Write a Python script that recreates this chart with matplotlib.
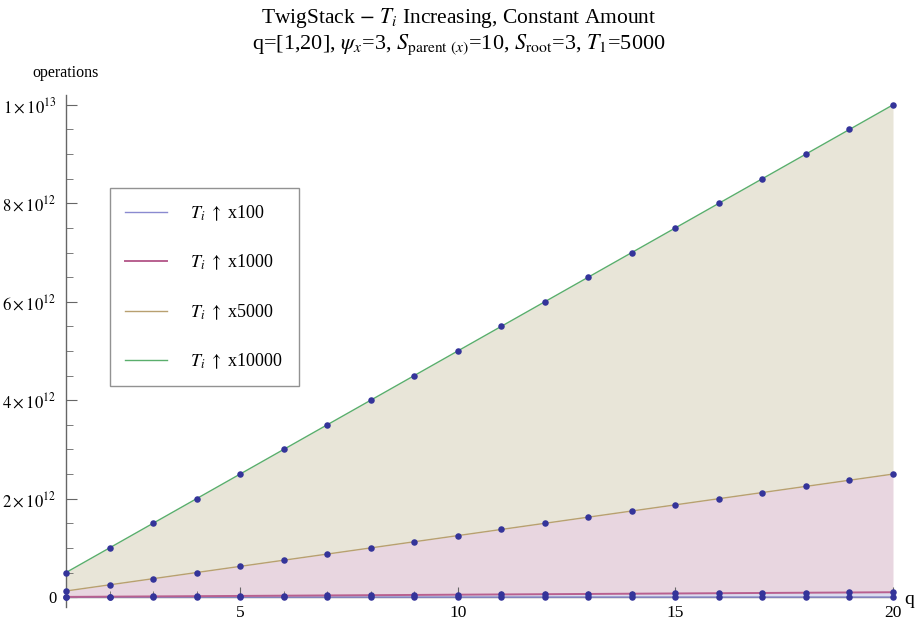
import matplotlib.pyplot as plt
from matplotlib.ticker import FixedLocator, MultipleLocator

plt.rcParams['font.family'] = ['Liberation Serif', 'DejaVu Serif']
plt.rcParams['mathtext.fontset'] = 'stix'

# data
q = [1, 2, 3, 4, 5, 6, 7, 8, 9, 10, 11, 12, 13, 14, 15, 16, 17, 18, 19, 20]
ops_x100 = [5e7, 1e8, 1.5e8, 2e8, 2.5e8, 3e8, 3.5e8, 4e8, 4.5e8, 5e8,
            5.5e8, 6e8, 6.5e8, 7e8, 7.5e8, 8e8, 8.5e8, 9e8, 9.5e8, 1e9]
ops_x1000 = [5e9, 1e10, 1.5e10, 2e10, 2.5e10, 3e10, 3.5e10, 4e10, 4.5e10, 5e10,
             5.5e10, 6e10, 6.5e10, 7e10, 7.5e10, 8e10, 8.5e10, 9e10, 9.5e10, 1e11]
ops_x5000 = [1.25e11, 2.5e11, 3.75e11, 5e11, 6.25e11, 7.5e11, 8.75e11, 1e12, 1.125e12, 1.25e12,
             1.375e12, 1.5e12, 1.625e12, 1.75e12, 1.875e12, 2e12, 2.125e12, 2.25e12, 2.375e12, 2.5e12]
ops_x10000 = [5e11, 1e12, 1.5e12, 2e12, 2.5e12, 3e12, 3.5e12, 4e12, 4.5e12, 5e12,
              5.5e12, 6e12, 6.5e12, 7e12, 7.5e12, 8e12, 8.5e12, 9e12, 9.5e12, 1e13]

labels = [r'$T_i$ $\uparrow$ x100', r'$T_i$ $\uparrow$ x1000',
          r'$T_i$ $\uparrow$ x5000', r'$T_i$ $\uparrow$ x10000']
y_ticks = [0, 2e12, 4e12, 6e12, 8e12, 1e13]
y_ticklabels = ['0', r'$2\times10^{12}$', r'$4\times10^{12}$', r'$6\times10^{12}$',
                r'$8\times10^{12}$', r'$1\times10^{13}$']

series = [ops_x100, ops_x1000, ops_x5000, ops_x10000]
line_colors = ['#8a8ad0', '#b8608f', '#b8a070', '#5aae6c']
line_widths = [1.0, 1.4, 1.0, 1.0]
fill_colors = ['#dcdcee', '#e8d6e0', '#e8d6e0', '#e8e5d8']

fig = plt.figure(figsize=(9.18, 6.24), dpi=100)
ax = fig.add_axes([66 / 918, 17 / 624, (893 - 66) / 918, (607 - 95) / 624])

# fills between consecutive curves
ax.fill_between(q, [0] * len(q), ops_x100, color=fill_colors[0], lw=0)
ax.fill_between(q, ops_x100, ops_x1000, color=fill_colors[0], lw=0)
ax.fill_between(q, ops_x1000, ops_x5000, color=fill_colors[2], lw=0)
ax.fill_between(q, ops_x5000, ops_x10000, color=fill_colors[3], lw=0)

for ys, c, lw, lab in zip(series, line_colors, line_widths, labels):
    ax.plot(q, ys, color=c, lw=lw, label=lab, zorder=3)
for ys in series:
    ax.scatter(q, ys, s=22, color='#34349a', zorder=4, clip_on=False, lw=0)

ax.set_xlim(1, 20)
ax.set_ylim(-2e11, 1.02e13)

ax.spines['top'].set_visible(False)
ax.spines['right'].set_visible(False)
ax.spines['left'].set_position(('data', 1))
ax.spines['bottom'].set_position(('data', 0))
for s in ('left', 'bottom'):
    ax.spines[s].set_color('#666666')
    ax.spines[s].set_linewidth(1.0)

ax.xaxis.set_major_locator(FixedLocator([5, 10, 15, 20]))
ax.xaxis.set_minor_locator(MultipleLocator(1))
ax.yaxis.set_major_locator(FixedLocator(y_ticks))
ax.set_yticklabels(y_ticklabels)
ax.yaxis.set_minor_locator(MultipleLocator(5e11))
ax.tick_params(axis='both', which='both', direction='in', colors='#666666',
               labelcolor='black', labelsize=12)
ax.tick_params(axis='x', which='major', length=7, pad=6, labelsize=12.5)
ax.tick_params(axis='x', which='minor', length=4)
ax.tick_params(axis='y', which='major', length=8, pad=7)
ax.tick_params(axis='y', which='minor', length=5)

fig.text(66 / 918, 1 - 73 / 624, 'operations', ha='center', va='center', fontsize=11.5)
fig.text(909 / 918, 1 - 600 / 624, 'q', ha='center', va='center', fontsize=14)

fig.text(0.5, 1 - 18 / 624, r'TwigStack $-$ $T_i$ Increasing, Constant Amount',
         ha='center', va='center', fontsize=15.5)
fig.text(0.5, 1 - 45 / 624,
         r'q=[1,20], $\psi_x$=3, $S_{\mathrm{parent}\ (x)}$=10, $S_{\mathrm{root}}$=3, $T_1$=5000',
         ha='center', va='center', fontsize=16)

leg = ax.legend(loc='upper left', bbox_to_anchor=(110 / 918, 1 - 188 / 624),
                bbox_transform=fig.transFigure, fontsize=13, frameon=True,
                fancybox=False, edgecolor='#777777', borderpad=0.85,
                labelspacing=1.66, handlelength=2.3, handletextpad=1.3,
                borderaxespad=0)
leg.get_frame().set_linewidth(1.0)

fig.savefig('out.png', dpi=100)
